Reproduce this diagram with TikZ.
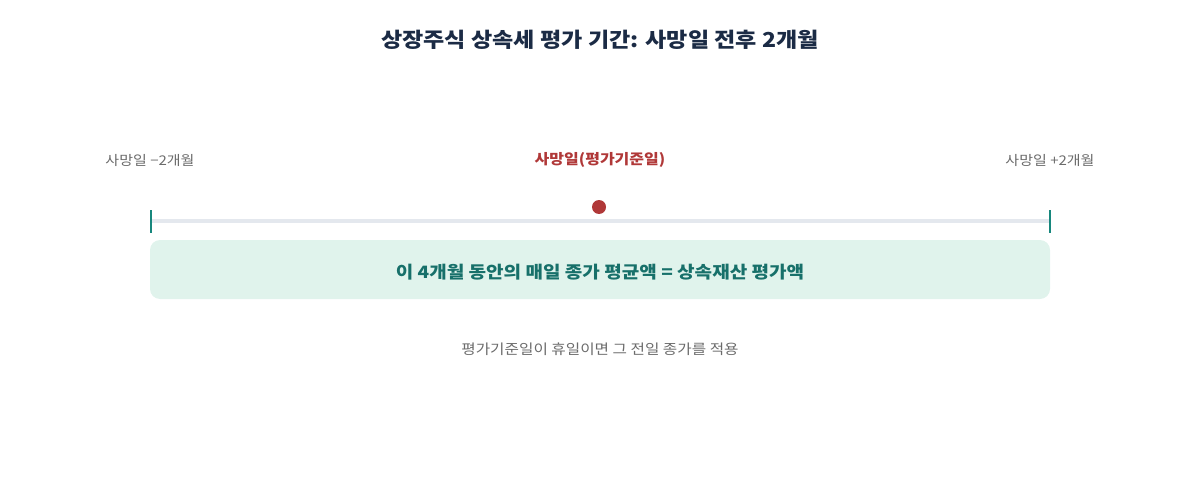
\documentclass[tikz,border=0pt]{standalone}
\usepackage{fontspec}
\setmainfont{Noto Sans CJK KR}[FakeStretch=1.12]
\definecolor{titlec}{HTML}{1B2B45}
\definecolor{grayt}{HTML}{6B6B6B}
\definecolor{redc}{HTML}{B03838}
\definecolor{tealc}{HTML}{17877D}
\definecolor{teald}{HTML}{17706A}
\definecolor{linec}{HTML}{E4E8EE}
\definecolor{boxc}{HTML}{E0F3EC}
\begin{document}
\begin{tikzpicture}[x=1pt,y=-1pt,
  lbl/.style={font=\fontsize{13.4}{16}\selectfont, text=grayt, inner sep=0pt},
  tick/.style={draw=tealc, line width=2pt},
]
\useasboundingbox (0,0) rectangle (1200,500);
\node[font=\fontsize{20.6}{24}\selectfont\bfseries, text=titlec, inner sep=0pt] (title) at (600,40) {상장주식 상속세 평가 기간: 사망일 전후 2개월};
\node[lbl] (lft) at (150,160) {사망일 −2개월};
\node[lbl] (rgt) at (1050,160) {사망일 +2개월};
\node[font=\fontsize{14.3}{17}\selectfont\bfseries, text=redc, inner sep=0pt] (mid) at (600,160) {사망일(평가기준일)};
\coordinate (a) at (151,221);
\coordinate (b) at (1050,221);
\draw[linec, line width=4pt] (a) -- (b);
\coordinate (t1a) at (151,210); \coordinate (t1b) at (151,233);
\coordinate (t2a) at (1050,210); \coordinate (t2b) at (1050,233);
\draw[tick] (t1a) -- (t1b);
\draw[tick] (t2a) -- (t2b);
\node[circle, fill=redc, minimum size=14pt, inner sep=0pt] (dot) at (599,207) {};
\node[fill=boxc, rounded corners=10pt, minimum width=900pt, minimum height=59pt, inner sep=0pt] (box) at (600,269.5) {};
\node[font=\fontsize{17}{20}\selectfont\bfseries, text=teald, inner sep=0pt] (boxt) at (600,272) {이 4개월 동안의 매일 종가 평균액 = 상속재산 평가액};
\node[font=\fontsize{14}{16}\selectfont, text=grayt, inner sep=0pt] (note) at (600,349) {평가기준일이 휴일이면 그 전일 종가를 적용};
\end{tikzpicture}
\end{document}
